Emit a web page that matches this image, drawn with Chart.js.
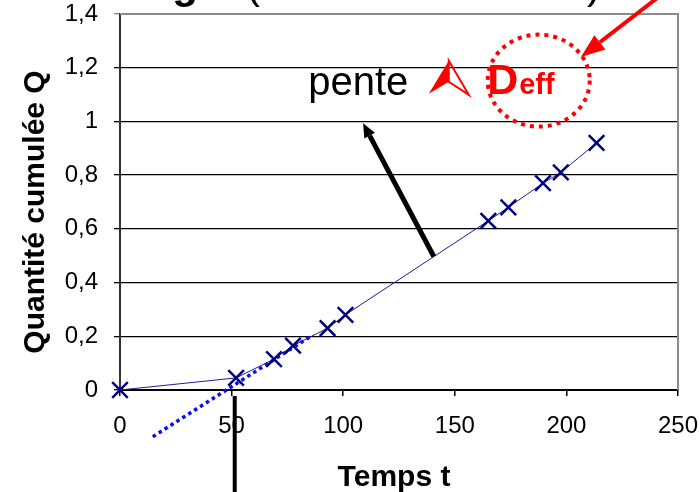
<!DOCTYPE html>
<html>
<head>
<meta charset="utf-8">
<script src="https://cdn.jsdelivr.net/npm/chart.js@4"></script>
<style>
  html, body { margin: 0; padding: 0; background: #fff; }
  #wrap { width: 700px; height: 492px; }
</style>
</head>
<body>
<div id="wrap"><canvas id="chart"></canvas></div>
<script>
// measured points (time, cumulated quantity)
const times = [0, 52, 69, 77.5, 93, 101, 165, 174, 189.5, 197.5, 213.5];
const quantities = [0, 0.045, 0.115, 0.165, 0.23, 0.28, 0.63, 0.68, 0.77, 0.81, 0.92];

// extrapolated steady-state line (dotted)
const tangentTimes = [14.7, 85.3];
const tangentValues = [-0.174, 0.199];

const xTicks = [0, 50, 100, 150, 200, 250];
const yTicks = [0, 0.2, 0.4, 0.6, 0.8, 1, 1.2, 1.4];

const fmt = v => String(Math.round(v * 10) / 10).replace(".", ",");

function arrow(ctx, x1, y1, x2, y2, width, headLen, headW, color) {
    const ang = Math.atan2(y2 - y1, x2 - x1);
    const bx = x2 - headLen * Math.cos(ang);
    const by = y2 - headLen * Math.sin(ang);
    ctx.strokeStyle = color;
    ctx.fillStyle = color;
    ctx.lineWidth = width;
    ctx.beginPath();
    ctx.moveTo(x1, y1);
    ctx.lineTo(bx, by);
    ctx.stroke();
    ctx.beginPath();
    ctx.moveTo(x2, y2);
    ctx.lineTo(bx + headW / 2 * Math.sin(ang), by - headW / 2 * Math.cos(ang));
    ctx.lineTo(bx - headW / 2 * Math.sin(ang), by + headW / 2 * Math.cos(ang));
    ctx.closePath();
    ctx.fill();
}

const overlay = {
    id: "overlay",
    afterDraw(chart) {
        const { ctx, chartArea: a, scales: { x, y } } = chart;
        ctx.save();

        // grey frame top / right
        ctx.strokeStyle = "#8c8c8c";
        ctx.lineWidth = 2;
        ctx.beginPath();
        ctx.moveTo(a.left, a.top);
        ctx.lineTo(a.right, a.top);
        ctx.lineTo(a.right, a.bottom);
        ctx.stroke();

        // title, cut off at the top: only the descenders show
        ctx.fillStyle = "#000";
        ctx.textBaseline = "alphabetic";
        ctx.font = "bold 42px 'Liberation Sans', Arial, sans-serif";
        const gDesc = ctx.measureText("g").actualBoundingBoxDescent;
        const base = 7 - gDesc;
        ctx.textAlign = "right";
        ctx.fillText("Time-lag", 198, base);
        ctx.font = "42px 'Liberation Sans', Arial, sans-serif";
        ctx.textAlign = "left";
        ctx.fillText("(", 246, base);
        ctx.textAlign = "center";
        ctx.fillText("méthode du retard", 422, base);
        ctx.textAlign = "right";
        ctx.fillText(")", 601, base);

        // axis titles
        ctx.font = "bold 30px 'Liberation Sans', Arial, sans-serif";
        ctx.textAlign = "center";
        ctx.fillText("Temps t", 394, 486);
        ctx.save();
        ctx.translate(44, 212);
        ctx.rotate(-Math.PI / 2);
        ctx.fillText("Quantité cumulée Q", 0, 0);
        ctx.restore();

        // vertical marker of the lag time, under the axis
        ctx.fillStyle = "#000";
        const lx = x.getPixelForValue(51.4);
        ctx.fillRect(lx - 2, a.bottom + 6, 4, chart.height - a.bottom - 6);

        // slope arrow
        arrow(ctx, x.getPixelForValue(140.6), y.getPixelForValue(0.497),
            x.getPixelForValue(108.9), y.getPixelForValue(0.993), 5, 14, 12, "#000");

        // "pente" label
        ctx.fillStyle = "#000";
        ctx.font = "40px 'Liberation Sans', Arial, sans-serif";
        ctx.textAlign = "left";
        ctx.fillText("pente", x.getPixelForValue(84.3), y.getPixelForValue(1.098));

        // red proportional sign (arrow-shaped)
        const tx = x.getPixelForValue(147.3), ty = y.getPixelForValue(1.226);
        ctx.fillStyle = "#ff0000";
        ctx.strokeStyle = "#ff0000";
        ctx.lineWidth = 2;
        ctx.beginPath();
        ctx.moveTo(tx, ty);
        ctx.lineTo(tx - 20, ty + 33);
        ctx.lineTo(tx, ty + 21);
        ctx.closePath();
        ctx.fill();
        ctx.beginPath();
        ctx.moveTo(tx, ty);
        ctx.lineTo(tx + 20, ty + 34);
        ctx.lineTo(tx, ty + 21);
        ctx.closePath();
        ctx.stroke();

        // D eff
        ctx.fillStyle = "#ff0000";
        ctx.font = "bold 43px 'Liberation Sans', Arial, sans-serif";
        const dx = x.getPixelForValue(164.5), dy = y.getPixelForValue(1.101);
        ctx.fillText("D", dx, dy);
        const dw = ctx.measureText("D").width;
        ctx.font = "bold 29px 'Liberation Sans', Arial, sans-serif";
        ctx.fillText("eff", dx + dw + 1, dy);

        // dotted red circle
        ctx.strokeStyle = "#ff0000";
        ctx.lineWidth = 4;
        ctx.setLineDash([4, 5]);
        ctx.beginPath();
        ctx.ellipse(x.getPixelForValue(187.6), y.getPixelForValue(1.152), 51, 46, 0, 0, Math.PI * 2);
        ctx.stroke();
        ctx.setLineDash([]);

        // red pointer from top right
        arrow(ctx, x.getPixelForValue(251), y.getPixelForValue(1.526),
            x.getPixelForValue(206.5), y.getPixelForValue(1.24), 4, 24, 18, "#ff0000");

        ctx.restore();
    },
};

const data = {
    datasets: [
        {
            label: "Q",
            data: times.map((t, i) => ({ x: t, y: quantities[i] })),
            showLine: true,
            borderColor: "#1c1c9c",
            borderWidth: 1,
            pointStyle: "crossRot",
            pointRadius: 11,
            pointBorderWidth: 2.5,
            pointBorderColor: "#000080",
            pointBackgroundColor: "#000080",
            clip: false,
            order: 1,
        },
        {
            label: "tangente",
            data: tangentTimes.map((t, i) => ({ x: t, y: tangentValues[i] })),
            showLine: true,
            borderColor: "#0a0aff",
            borderWidth: 3.5,
            borderDash: [3.5, 3.5],
            pointRadius: 0,
            clip: false,
            order: 2,
        },
    ],
};

const config = {
    type: "scatter",
    data: data,
    options: {
        responsive: true,
        maintainAspectRatio: false,
        animation: false,
        layout: { padding: { top: 14, right: 22 } },
        plugins: {
            legend: { display: false },
            tooltip: { enabled: false },
        },
        scales: {
            x: {
                type: "linear",
                min: 0,
                max: 250,
                afterBuildTicks: s => { s.ticks = xTicks.map(v => ({ value: v })); },
                afterFit: s => { s.height = 102; s.paddingLeft = 0; s.paddingRight = 0; },
                ticks: {
                    color: "#000",
                    padding: 16,
                    maxRotation: 0,
                    font: { family: "'Liberation Sans', Arial, sans-serif", size: 24 },
                },
                grid: { drawOnChartArea: false, color: "#000", tickLength: 6, lineWidth: 1.5 },
                border: { color: "#000", width: 2 },
            },
            y: {
                type: "linear",
                min: 0,
                max: 1.4,
                afterBuildTicks: s => { s.ticks = yTicks.map(v => ({ value: v })); },
                afterFit: s => { s.width = 120; s.paddingTop = 0; s.paddingBottom = 0; },
                ticks: {
                    color: "#000",
                    padding: 16,
                    callback: v => fmt(v),
                    font: { family: "'Liberation Sans', Arial, sans-serif", size: 24 },
                },
                grid: {
                    color: c => (c.tick && c.tick.value >= 1.4 ? "#8c8c8c" : "#000"),
                    lineWidth: 1.3,
                    tickLength: 6,
                },
                border: { color: "#333", width: 2 },
            },
        },
    },
    plugins: [overlay],
};

const qChart = new Chart(document.getElementById("chart"), config);
</script>
</body>
</html>
